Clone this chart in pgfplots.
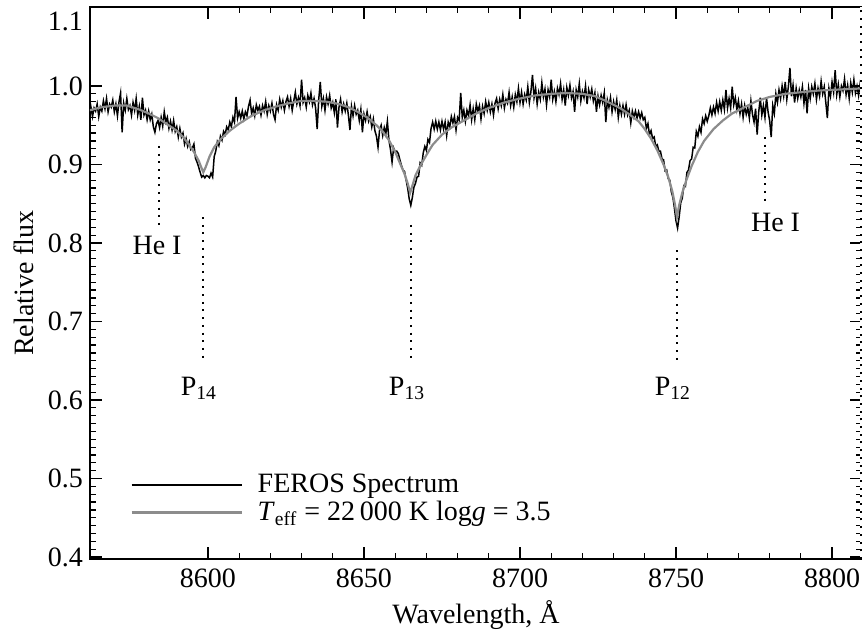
\documentclass[border=0pt]{standalone}
\usepackage{fontspec}
\setmainfont{Liberation Serif}
\usepackage{pgfplots}
\usepackage{pgfplotstable}
\pgfplotsset{compat=1.18}
\definecolor{modelgray}{RGB}{140,140,140}

\pgfplotstableread{
x y
8562 0.969
8566 0.973
8570 0.975
8574 0.975
8578 0.970
8581 0.965
8584 0.959
8587 0.951
8590 0.943
8592 0.935
8594 0.925
8595.5 0.916
8597 0.905
8598 0.895
8598.5 0.890
8599.2 0.896
8600.5 0.910
8602 0.922
8604 0.932
8607 0.943
8610 0.952
8614 0.962
8618 0.969
8622 0.974
8626 0.978
8630 0.981
8634 0.981
8638 0.980
8642 0.977
8645 0.973
8648 0.967
8651 0.960
8654 0.950
8656 0.942
8658 0.931
8660 0.916
8661.5 0.902
8663 0.888
8664 0.876
8664.8 0.864
8665.6 0.874
8666.5 0.886
8668 0.898
8670 0.912
8672 0.925
8675 0.938
8678 0.947
8682 0.956
8686 0.965
8690 0.972
8695 0.979
8700 0.984
8705 0.988
8710 0.990
8715 0.991
8720 0.990
8724 0.987
8728 0.980
8732 0.972
8735 0.964
8738 0.955
8740 0.945
8742 0.933
8744 0.918
8746 0.900
8747.5 0.884
8748.8 0.866
8749.7 0.848
8750.3 0.833
8751 0.848
8752 0.864
8753.3 0.880
8755 0.898
8757 0.916
8759 0.930
8762 0.945
8765 0.956
8768 0.965
8772 0.973
8776 0.981
8780 0.986
8785 0.990
8790 0.992
8795 0.994
8800 0.995
8805 0.996
8810 0.997
}\modeltable

\pgfplotstableread{
x y
8562.0 .963
8562.5 .973
8563.0 .961
8563.5 .972
8564.0 .968
8564.5 .977
8565.0 .961
8565.5 .973
8566.0 .968
8566.5 .981
8567.0 .971
8567.5 .984
8568.0 .967
8568.5 .977
8569.0 .973
8569.5 .982
8570.0 .967
8570.5 .977
8571.0 .962
8571.5 .980
8572.0 .991
8572.5 .941
8573.0 .978
8573.5 .969
8574.0 .984
8574.5 .970
8575.0 .975
8575.5 .963
8576.0 .979
8576.5 .969
8577.0 .984
8577.5 .963
8578.0 .974
8578.5 .957
8579.0 .985
8579.5 .963
8580.0 .969
8580.5 .957
8581.0 .968
8581.5 .957
8582.0 .964
8582.5 .948
8583.0 .941
8583.5 .952
8584.0 .956
8584.5 .947
8585.0 .960
8585.5 .949
8586.0 .967
8586.5 .954
8587.0 .960
8587.5 .946
8588.0 .955
8588.5 .944
8589.0 .956
8589.5 .942
8590.0 .948
8590.5 .935
8591.0 .946
8591.5 .935
8592.0 .940
8592.5 .926
8593.0 .933
8593.5 .923
8594.0 .929
8594.5 .919
8595.0 .921
8595.5 .926
8596.0 .908
8596.5 .903
8597.0 .897
8597.5 .890
8598.0 .884
8598.5 .886
8599.0 .883
8599.5 .886
8600.0 .885
8600.5 .883
8601.0 .889
8601.5 .884
8602.0 .910
8602.5 .917
8603.0 .929
8603.5 .924
8604.0 .936
8604.5 .931
8605.0 .942
8605.5 .938
8606.0 .948
8606.5 .944
8607.0 .954
8607.5 .948
8608.0 .960
8608.5 .954
8609.0 .986
8609.5 .959
8610.0 .967
8610.5 .959
8611.0 .968
8611.5 .958
8612.0 .967
8612.5 .962
8613.0 .974
8613.5 .982
8614.0 .965
8614.5 .972
8615.0 .962
8615.5 .976
8616.0 .969
8616.5 .974
8617.0 .963
8617.5 .975
8618.0 .968
8618.5 .980
8619.0 .964
8619.5 .975
8620.0 .968
8620.5 .978
8621.0 .964
8621.5 .957
8622.0 .976
8622.5 .969
8623.0 .983
8623.5 .973
8624.0 .981
8624.5 .969
8625.0 .980
8625.5 .986
8626.0 .974
8626.5 .984
8627.0 .969
8627.5 .981
8628.0 .992
8628.5 .977
8629.0 .985
8629.5 .975
8630.0 1.008
8630.5 .979
8631.0 .985
8631.5 .973
8632.0 .988
8632.5 .980
8633.0 .991
8633.5 .976
8634.0 .984
8634.5 .972
8635.0 .945
8635.5 .983
8636.0 1.005
8636.5 .974
8637.0 .984
8637.5 .969
8638.0 .986
8638.5 .977
8639.0 .988
8639.5 .972
8640.0 .979
8640.5 .966
8641.0 .983
8641.5 .947
8642.0 .973
8642.5 .983
8643.0 .967
8643.5 .977
8644.0 .968
8644.5 .978
8645.0 .963
8645.5 .944
8646.0 .974
8646.5 .962
8647.0 .975
8647.5 .964
8648.0 .969
8648.5 .956
8649.0 .970
8649.5 .941
8650.0 .964
8650.5 .956
8651.0 .967
8651.5 .955
8652.0 .961
8652.5 .948
8653.0 .958
8653.5 .943
8654.0 .936
8654.5 .922
8655.0 .944
8655.5 .950
8656.0 .937
8656.5 .947
8657.0 .939
8657.5 .955
8658.0 .931
8658.5 .919
8659.0 .903
8659.5 .921
8660.0 .916
8660.5 .917
8661.0 .914
8661.5 .906
8662.0 .899
8662.5 .893
8663.0 .891
8663.5 .880
8664.0 .870
8664.5 .856
8665.0 .848
8665.5 .858
8666.0 .871
8666.5 .876
8667.0 .884
8667.5 .885
8668.0 .902
8668.5 .899
8669.0 .915
8669.5 .923
8670.0 .918
8670.5 .932
8671.0 .928
8671.5 .946
8672.0 .954
8672.5 .945
8673.0 .955
8673.5 .945
8674.0 .954
8674.5 .944
8675.0 .955
8675.5 .945
8676.0 .954
8676.5 .937
8677.0 .954
8677.5 .948
8678.0 .961
8678.5 .953
8679.0 .961
8679.5 .944
8680.0 .960
8680.5 .956
8681.0 .991
8681.5 .960
8682.0 .969
8682.5 .955
8683.0 .969
8683.5 .962
8684.0 .976
8684.5 .957
8685.0 .971
8685.5 .957
8686.0 .977
8686.5 .968
8687.0 .975
8687.5 .958
8688.0 .974
8688.5 .965
8689.0 .980
8689.5 .969
8690.0 .979
8690.5 .967
8691.0 .977
8691.5 .963
8692.0 .978
8692.5 .984
8693.0 .971
8693.5 .983
8694.0 .975
8694.5 .989
8695.0 .972
8695.5 .983
8696.0 .978
8696.5 .992
8697.0 .975
8697.5 .986
8698.0 .973
8698.5 .989
8699.0 .980
8699.5 .997
8700.0 .979
8700.5 .992
8701.0 .977
8701.5 .989
8702.0 .982
8702.5 .999
8703.0 .979
8703.5 .993
8704.0 1.014
8704.5 .985
8705.0 .997
8705.5 .977
8706.0 .992
8706.5 .983
8707.0 1.004
8707.5 .986
8708.0 .996
8708.5 .976
8709.0 .995
8709.5 .986
8710.0 1.008
8710.5 .983
8711.0 .993
8711.5 .980
8712.0 .997
8712.5 .989
8713.0 1.003
8713.5 .983
8714.0 .995
8714.5 .975
8715.0 .998
8715.5 .988
8716.0 1.001
8716.5 .985
8717.0 .993
8717.5 .967
8718.0 .995
8718.5 .986
8719.0 1.003
8719.5 .981
8720.0 .993
8720.5 .985
8721.0 1.000
8721.5 .977
8722.0 .995
8722.5 .986
8723.0 .996
8723.5 .981
8724.0 .991
8724.5 .967
8725.0 .987
8725.5 .976
8726.0 .988
8726.5 .979
8727.0 .991
8727.5 .954
8728.0 .982
8728.5 .973
8729.0 .985
8729.5 .967
8730.0 .980
8730.5 .970
8731.0 .982
8731.5 .960
8732.0 .975
8732.5 .964
8733.0 .975
8733.5 .964
8734.0 .976
8734.5 .963
8735.0 .969
8735.5 .953
8736.0 .968
8736.5 .960
8737.0 .968
8737.5 .959
8738.0 .967
8738.5 .959
8739.0 .966
8739.5 .957
8740.0 .960
8740.5 .946
8741.0 .952
8741.5 .938
8742.0 .943
8742.5 .933
8743.0 .935
8743.5 .923
8744.0 .925
8744.5 .917
8745.0 .917
8745.5 .907
8746.0 .906
8746.5 .892
8747.0 .893
8747.5 .882
8748.0 .880
8748.5 .865
8749.0 .858
8749.5 .844
8750.0 .828
8750.5 .819
8751.0 .833
8751.5 .851
8752.0 .857
8752.5 .873
8753.0 .872
8753.5 .890
8754.0 .893
8754.5 .905
8755.0 .907
8755.5 .922
8756.0 .921
8756.5 .942
8757.0 .936
8757.5 .948
8758.0 .941
8758.5 .958
8759.0 .952
8759.5 .962
8760.0 .955
8760.5 .962
8761.0 .972
8761.5 .963
8762.0 .973
8762.5 .965
8763.0 .979
8763.5 .968
8764.0 .980
8764.5 .969
8765.0 .982
8765.5 .970
8766.0 .995
8766.5 .972
8767.0 .984
8767.5 .972
8768.0 .999
8768.5 .976
8769.0 .985
8769.5 .970
8770.0 .981
8770.5 .965
8771.0 .977
8771.5 .960
8772.0 .975
8772.5 .964
8773.0 .972
8773.5 .959
8774.0 .981
8774.5 .964
8775.0 .954
8775.5 .971
8776.0 .938
8776.5 .967
8777.0 .985
8777.5 .963
8778.0 .975
8778.5 .960
8779.0 .985
8779.5 .967
8780.0 .956
8780.5 .935
8781.0 .975
8781.5 .965
8782.0 .990
8782.5 .979
8783.0 .995
8783.5 .984
8784.0 1.000
8784.5 .987
8785.0 1.005
8785.5 .983
8786.0 .999
8786.5 1.023
8787.0 .987
8787.5 1.001
8788.0 .979
8788.5 .997
8789.0 .984
8789.5 .995
8790.0 .986
8790.5 .999
8791.0 .978
8791.5 .995
8792.0 .965
8792.5 .997
8793.0 .984
8793.5 .999
8794.0 .990
8794.5 1.003
8795.0 .983
8795.5 .997
8796.0 .987
8796.5 1.006
8797.0 .990
8797.5 .999
8798.0 .979
8798.5 .959
8799.0 .997
8799.5 .987
8800.0 1.005
8800.5 .992
8801.0 1.020
8801.5 .989
8802.0 1.002
8802.5 .986
8803.0 1.000
8803.5 .994
8804.0 1.009
8804.5 .989
8805.0 1.001
8805.5 .984
8806.0 1.004
8806.5 .992
8807.0 1.008
8807.5 .991
8808.0 1.000
8808.5 .988
8809.0 1.003
8809.5 .994
8810.0 1.005
}\spectable

\begin{document}
\begin{tikzpicture}[font=\fontsize{14}{16.8}\selectfont]
\begin{axis}[
  scale only axis,
  width=386pt, height=276pt,
  xmin=8562.2, xmax=8809.6,
  ymin=0.3975, ymax=1.1006,
  xtick={8600,8650,8700,8750,8800},
  ytick={0.4,0.5,0.6,0.7,0.8,0.9,1.0},
  extra y ticks={1.1},
  extra y tick style={yticklabel style={yshift=-7pt}},
  minor x tick num=4,
  minor y tick num=9,
  major tick length=6pt,
  minor tick length=3pt,
  every tick/.style={black, line width=0.6pt},
  axis line style={line width=0.8pt},
  /pgf/number format/assume math mode=true,
  xticklabel style={/pgf/number format/set thousands separator={}, yshift=-1.5pt},
  yticklabel style={/pgf/number format/fixed, /pgf/number format/fixed zerofill, /pgf/number format/precision=1},
  xlabel={Wavelength, Å},
  ylabel={Relative flux},
  every axis x label/.style={at={(axis description cs:0.5,-0.102)}, anchor=center},
  every axis y label/.style={at={(axis description cs:-0.0855,0.5)}, rotate=90, anchor=center},
  legend style={draw=none, fill=none, at={(axis description cs:0.052,0.056)}, anchor=south west,
    font=\fontsize{14}{16}\selectfont, row sep=-1.2pt, inner sep=0pt},
  legend cell align=left,
  legend image code/.code={\draw[#1] (0pt,0pt) -- (55pt,0pt); \path (60.5pt,0pt);},
  clip=true,
]
\addplot[black, line width=0.75pt] table[x=x,y=y] {\spectable};
\addlegendentry{FEROS Spectrum}
\addplot[modelgray, line width=1.1pt] table[x=x,y=y] {\modeltable};
\addlegendentry{\textit{T}\textsubscript{eff} = 22\,000 K log\textit{g} = 3.5}

\pgfplotsset{every axis plot/.append style={forget plot}}
\addplot[black, line width=1pt, dash pattern=on 1pt off 2.85pt] coordinates {(8584.4,0.9236) (8584.4,0.819)};
\addplot[black, line width=1pt, dash pattern=on 1pt off 2.85pt] coordinates {(8598.3,0.833) (8598.3,0.650)};
\addplot[black, line width=1pt, dash pattern=on 1pt off 2.85pt] coordinates {(8665.0,0.823) (8665.0,0.650)};
\addplot[black, line width=1pt, dash pattern=on 1pt off 2.85pt] coordinates {(8750.2,0.791) (8750.2,0.650)};
\addplot[black, line width=1pt, dash pattern=on 1pt off 2.85pt] coordinates {(8778.5,0.935) (8778.5,0.851)};
\addplot[white, line width=1.6pt] coordinates {(8809.6,0.3975) (8809.6,1.1006)};
\addplot[black, line width=1pt, dash pattern=on 1pt off 2.85pt] coordinates {(8809.4,0.3975) (8809.4,1.1006)};

\node[anchor=base] at (axis cs:8583.7,0.785) {He I};
\node[anchor=base] at (axis cs:8781.9,0.815) {He I};
\node[anchor=base] at (axis cs:8597.1,0.606) {P\textsubscript{14}};
\node[anchor=base] at (axis cs:8663.8,0.606) {P\textsubscript{13}};
\node[anchor=base] at (axis cs:8749.0,0.606) {P\textsubscript{12}};

\coordinate (sw) at (rel axis cs:0,0);
\coordinate (ne) at (rel axis cs:1,1);
\end{axis}
\pgfresetboundingbox
\path ([xshift=-45pt,yshift=-35.5pt]sw) rectangle ([yshift=3.5pt]ne);
\end{tikzpicture}
\end{document}
